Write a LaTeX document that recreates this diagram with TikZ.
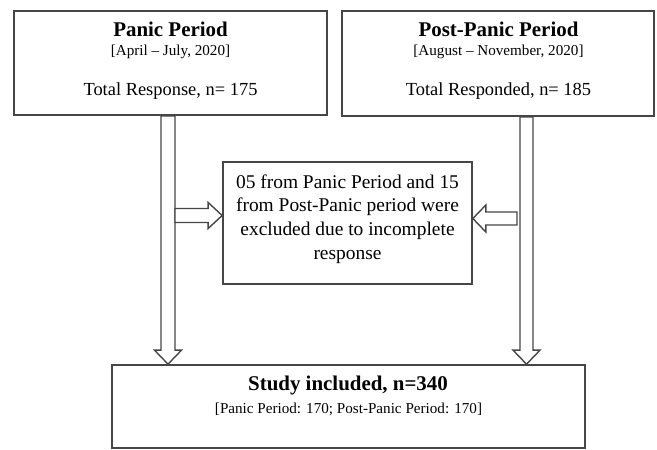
\documentclass[tikz,border=0pt]{standalone}
\usepackage{fontspec}
\setmainfont{Liberation Serif}
\usetikzlibrary{calc}
\definecolor{edge}{HTML}{464646}
\tikzset{
  box/.style={draw=edge, line width=1.7bp, fill=white, inner sep=0pt},
  blk/.style={draw=edge, line width=1.4bp, fill=white, line join=miter},
  ttl/.style={anchor=base, font=\fontsize{21}{24}\selectfont\bfseries},
  sub/.style={anchor=base, font=\fontsize{15.2}{17}\selectfont},
  txt/.style={anchor=base, font=\fontsize{18.5}{22}\selectfont},
}
\begin{document}
\begin{tikzpicture}[x=1bp,y=-1bp]
\useasboundingbox (0,0) rectangle (657,450);
% boxes
\node[box, minimum width=313bp, minimum height=104bp] (p1) at (170.5,63) {};
\node[box, minimum width=312bp, minimum height=105bp] (p2) at (498,63.5) {};
\node[box, minimum width=249bp, minimum height=122bp] (mid) at (347.5,223) {};
\node[box, minimum width=473bp, minimum height=83bp] (fin) at (348.5,406.5) {};
% texts
\node[ttl] (t1) at (170.5,37) {Panic Period};
\node[sub] (s1) at (170.5,56) {[April – July, 2020]};
\node[txt] (n1) at (170.5,96) {Total Response, n= 175};
\node[ttl] (t2) at (498.5,37) {Post-Panic Period};
\node[sub] (s2) at (498.5,56) {[August – November, 2020]};
\node[txt] (n2) at (498.5,96) {Total Responded, n= 185};
\node[align=center, font=\fontsize{19.5}{23.7}\selectfont, inner sep=0pt] (mt) at (347.5,219) {05 from Panic Period and 15\\from Post-Panic period were\\excluded due to incomplete\\response};
\node[ttl] (t3) at (348,390) {Study included, n=340};
\node[sub] (s3) at (348.5,413) {[Panic Period: 170; Post-Panic Period: 170]};
% left vertical block arrow
\coordinate (L1) at ($(p1.south)+(-2.5,0)$);
\coordinate (L2) at (L1 |- fin.north);
\draw[blk] ($(L1)+(-7,0)$) -- ($(L2)+(-7,-14)$) -- ($(L2)+(-13.5,-14)$) -- (L2)
  -- ($(L2)+(13.5,-14)$) -- ($(L2)+(7,-14)$) -- ($(L1)+(7,0)$) -- cycle;
% right vertical block arrow
\coordinate (R1) at ($(p2.south)+(28.5,0)$);
\coordinate (R2) at (R1 |- fin.north);
\draw[blk] ($(R1)+(-6.5,0)$) -- ($(R2)+(-6.5,-14)$) -- ($(R2)+(-13.5,-14)$) -- (R2)
  -- ($(R2)+(13.5,-14)$) -- ($(R2)+(6.5,-14)$) -- ($(R1)+(6.5,0)$) -- cycle;
% left horizontal block arrow
\coordinate (H1t) at ($(mid.west)+(0,-7.5)$);
\coordinate (L1r) at ($(L1)+(7,0)$);
\coordinate (H1) at (L1r |- H1t);
\draw[blk] ($(H1)+(0,-7)$) -- ($(H1t)+(-14,-7)$) -- ($(H1t)+(-14,-13)$) -- (H1t)
  -- ($(H1t)+(-14,13)$) -- ($(H1t)+(-14,7)$) -- ($(H1)+(0,7)$) -- cycle;
% right horizontal block arrow
\coordinate (H2t) at ($(mid.east)+(0,-4.5)$);
\coordinate (R1l) at ($(R1)+(-9.5,0)$);
\coordinate (H2) at (R1l |- H2t);
\draw[blk] ($(H2)+(0,-6.5)$) -- ($(H2t)+(13,-6.5)$) -- ($(H2t)+(13,-13.5)$) -- (H2t)
  -- ($(H2t)+(13,13.5)$) -- ($(H2t)+(13,6.5)$) -- ($(H2)+(0,6.5)$) -- cycle;
\end{tikzpicture}
\end{document}
